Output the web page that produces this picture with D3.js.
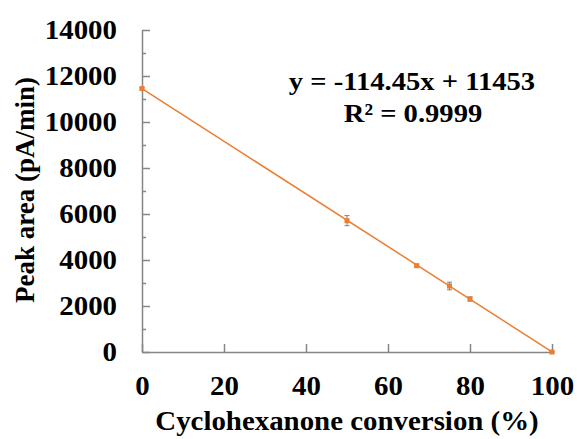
<!doctype HTML>
<meta charset="utf-8">
<style>
    body { margin: 0; background: #fff; }
    text { font-family: "Liberation Serif", "Times New Roman", serif; font-weight: bold; fill: #000; }
    .axisGray path, .axisGray line { stroke: #868686; stroke-width: 1.5; }
</style>
<html>
<head>
    <script src="https://d3js.org/d3.v7.min.js"></script>
</head>
<body>
<div id="chart"></div>
<script>

    // measured points (conversion %, peak area) with error bars
    var conversion = [0, 50, 67, 75, 80, 100];
    var peakArea = [11455, 5710, 3752, 2870, 2304, 0];
    var errors = [40, 220, 60, 165, 90, 0];

    // linear trendline from the equation shown on the chart
    var slope = -114.45, intercept = 11453;
    var trendX = [0, 100];

    var xTicks = [0, 20, 40, 60, 80, 100];
    var yTicks = [0, 2000, 4000, 6000, 8000, 10000, 12000, 14000];
    var yMinorTicks = [1000, 3000, 5000, 7000, 9000, 11000, 13000];

    var W = 577, H = 439;
    var margin = {top: 30, right: 25, bottom: 87, left: 142};
    var stretch = 1.07; // the original text is a bit wider than the font

    var svg = d3.select("#chart")
        .append("svg")
        .attr("width", W)
        .attr("height", H);

    var xScale = d3.scaleLinear().domain([0, 100]).range([margin.left, W - margin.right]);
    var yScale = d3.scaleLinear().domain([0, 14000]).range([H - margin.bottom, margin.top]);

    var orange = "#ED7D31";

    // minor y ticks
    svg.append("g")
        .attr("class", "axisGray")
        .attr("transform", "translate(" + margin.left + ",0)")
        .call(d3.axisRight(yScale).tickValues(yMinorTicks).tickSize(4).tickFormat(""))
        .select(".domain").remove();

    // y axis, ticks pointing inward
    var yAxis = svg.append("g")
        .attr("class", "axisGray")
        .attr("transform", "translate(" + margin.left + ",0)")
        .call(d3.axisLeft(yScale).tickValues(yTicks).tickFormat(d3.format("d"))
            .tickSizeInner(-8).tickSizeOuter(0).tickPadding(25));
    yAxis.selectAll("text")
        .style("font-size", "27px")
        .attr("fill", "#000")
        .attr("x", -25 / stretch)
        .attr("transform", "scale(" + stretch + ",1)");

    // x axis
    var xAxis = svg.append("g")
        .attr("class", "axisGray")
        .attr("transform", "translate(0," + yScale(0) + ")")
        .call(d3.axisBottom(xScale).tickValues(xTicks).tickSizeInner(-8).tickSizeOuter(0).tickPadding(24));
    xAxis.selectAll("text")
        .style("font-size", "27px")
        .attr("fill", "#000")
        .attr("transform", "scale(" + stretch + ",1)");

    // trendline
    svg.append("line")
        .attr("x1", xScale(trendX[0]))
        .attr("y1", yScale(slope * trendX[0] + intercept))
        .attr("x2", xScale(trendX[1]))
        .attr("y2", yScale(slope * trendX[1] + intercept))
        .attr("stroke", orange)
        .attr("stroke-width", 1.5);

    // error bars
    var eb = svg.selectAll(".err")
        .data(conversion)
        .enter().append("g")
        .attr("class", "err")
        .attr("stroke", "#7f7f7f")
        .attr("stroke-width", 1);
    eb.append("line")
        .attr("x1", function(d) { return xScale(d); })
        .attr("x2", function(d) { return xScale(d); })
        .attr("y1", function(d, i) { return yScale(peakArea[i] + errors[i]); })
        .attr("y2", function(d, i) { return yScale(peakArea[i] - errors[i]); });
    eb.append("line")
        .attr("x1", function(d) { return xScale(d) - 2.5; })
        .attr("x2", function(d) { return xScale(d) + 2.5; })
        .attr("y1", function(d, i) { return yScale(peakArea[i] + errors[i]); })
        .attr("y2", function(d, i) { return yScale(peakArea[i] + errors[i]); });
    eb.append("line")
        .attr("x1", function(d) { return xScale(d) - 2.5; })
        .attr("x2", function(d) { return xScale(d) + 2.5; })
        .attr("y1", function(d, i) { return yScale(peakArea[i] - errors[i]); })
        .attr("y2", function(d, i) { return yScale(peakArea[i] - errors[i]); });

    // markers
    svg.selectAll(".pt")
        .data(conversion)
        .enter().append("rect")
        .attr("class", "pt")
        .attr("x", function(d) { return xScale(d) - 2.5; })
        .attr("y", function(d, i) { return yScale(peakArea[i]) - 2.5; })
        .attr("width", 5)
        .attr("height", 5)
        .attr("fill", orange);

    // axis titles
    svg.append("text")
        .attr("transform", "translate(" + ((xScale(0) + xScale(100)) / 2) + ",430) scale(" + stretch + ",1)")
        .attr("text-anchor", "middle")
        .style("font-size", "27px")
        .text("Cyclohexanone conversion (%)");

    svg.append("text")
        .attr("transform", "translate(34,190) rotate(-90)")
        .attr("text-anchor", "middle")
        .style("font-size", "27px")
        .text("Peak area (pA/min)");

    // equation
    svg.append("text")
        .attr("transform", "translate(412,90) scale(1.1,1)")
        .attr("text-anchor", "middle")
        .style("font-size", "26px")
        .text("y = -114.45x + 11453");
    svg.append("text")
        .attr("transform", "translate(413,122) scale(1.1,1)")
        .attr("text-anchor", "middle")
        .style("font-size", "26px")
        .text("R² = 0.9999");

</script>
</body>
</html>
